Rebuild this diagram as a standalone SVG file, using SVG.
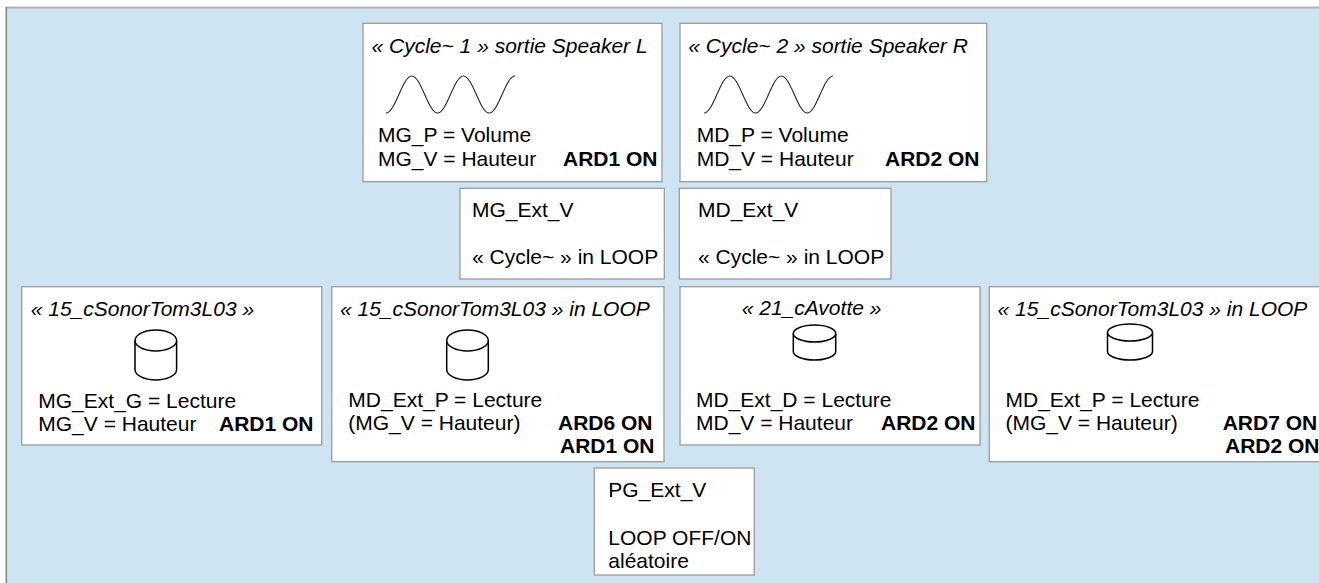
<svg xmlns="http://www.w3.org/2000/svg" width="1319" height="583" viewBox="0 0 1319 583">
<style>
  text { font-family: "Liberation Sans", Arial, sans-serif; font-size: 21px; fill: #000; }
  .it { font-style: italic; }
  .b { font-weight: bold; }
  .box { fill: #fff; stroke: #9c9c9c; stroke-width: 1.3; }
  .wave { fill: none; stroke: #222; stroke-width: 1.1; }
  .cyl { fill: #fff; stroke: #000; stroke-width: 1.5; }
</style>
<rect x="0" y="0" width="1319" height="583" fill="#fff"/>
<rect x="6.5" y="7.5" width="1320" height="580" fill="#cee4f3"/>
<line x1="6" y1="7.5" x2="1319" y2="7.5" stroke="#b2b2b2" stroke-width="2"/>
<line x1="6.3" y1="7" x2="6.3" y2="583" stroke="#848484" stroke-width="1.5"/>

<g id="connectors"></g>

<g id="cycle1">
  <rect class="box" x="363" y="23.3" width="299" height="158.4"/>
  <text class="it" x="371.5" y="53.3">« Cycle~ 1 » sortie Speaker L</text>
  <path class="wave" d="M386,113 c9.4,0 16.4,-37 25.8,-37 c9.4,0 16.4,37 25.8,37 c9.4,0 16.4,-37 25.8,-37 c9.4,0 16.4,37 25.8,37 c9.4,0 16.4,-37 25.8,-37"/>
  <text x="378" y="141.7">MG_P = Volume</text>
  <text x="378" y="165.8">MG_V = Hauteur</text>
  <text class="b" x="563" y="165.8">ARD1 ON</text>
</g>

<g id="cycle2">
  <rect class="box" x="680" y="23.3" width="306.7" height="158.4"/>
  <text class="it" x="688.3" y="53.3">« Cycle~ 2 » sortie Speaker R</text>
  <path class="wave" d="M704,113 c9.4,0 16.4,-37 25.8,-37 c9.4,0 16.4,37 25.8,37 c9.4,0 16.4,-37 25.8,-37 c9.4,0 16.4,37 25.8,37 c9.4,0 16.4,-37 25.8,-37"/>
  <text x="696.7" y="141.7">MD_P = Volume</text>
  <text x="696.7" y="165.8">MD_V = Hauteur</text>
  <text class="b" x="885" y="165.8">ARD2 ON</text>
</g>

<g id="mg_ext_v">
  <rect class="box" x="460" y="188.3" width="204.3" height="90.7"/>
  <text x="472" y="216.7">MG_Ext_V</text>
  <text x="472" y="264">« Cycle~ » in LOOP</text>
</g>

<g id="md_ext_v">
  <rect class="box" x="679.3" y="188.3" width="211.7" height="90.7"/>
  <text x="698" y="216.7">MD_Ext_V</text>
  <text x="698" y="264">« Cycle~ » in LOOP</text>
</g>

<g id="sonor1">
  <rect class="box" x="21.7" y="286.7" width="300" height="158.3"/>
  <text class="it" x="30.7" y="315.5">« 15_cSonorTom3L03 »</text>
  <path class="cyl" d="M135,340.5 V369.5 A20.8,10.5 0 0 0 176.6,369.5 V340.5"/>
  <ellipse class="cyl" cx="155.8" cy="340.5" rx="20.8" ry="10.5"/>
  <text x="38.3" y="408">MG_Ext_G = Lecture</text>
  <text x="38.3" y="431">MG_V = Hauteur</text>
  <text class="b" x="219" y="431">ARD1 ON</text>
</g>

<g id="sonor_loop1">
  <rect class="box" x="331.7" y="286.7" width="332.3" height="175"/>
  <text class="it" x="340" y="315.5">« 15_cSonorTom3L03 » in LOOP</text>
  <path class="cyl" d="M446.7,340.5 V369.5 A20.8,10.5 0 0 0 488.3,369.5 V340.5"/>
  <ellipse class="cyl" cx="467.5" cy="340.5" rx="20.8" ry="10.5"/>
  <text x="348.3" y="407">MD_Ext_P = Lecture</text>
  <text x="348.3" y="430">(MG_V = Hauteur)</text>
  <text class="b" x="558" y="430">ARD6 ON</text>
  <text class="b" x="560" y="453">ARD1 ON</text>
</g>

<g id="avotte">
  <rect class="box" x="680" y="286.7" width="300" height="158.3"/>
  <text class="it" x="741.7" y="315">« 21_cAvotte »</text>
  <path class="cyl" d="M793.3,333.5 V351.5 A21.2,8.5 0 0 0 835.7,351.5 V333.5"/>
  <ellipse class="cyl" cx="814.5" cy="333.5" rx="21.2" ry="8.5"/>
  <text x="696" y="407">MD_Ext_D = Lecture</text>
  <text x="696" y="430">MD_V = Hauteur</text>
  <text class="b" x="881" y="430">ARD2 ON</text>
</g>

<g id="sonor_loop2">
  <rect class="box" x="989.3" y="286.7" width="340" height="175"/>
  <text class="it" x="997.6" y="315.5">« 15_cSonorTom3L03 » in LOOP</text>
  <path class="cyl" d="M1107.5,332.5 V351.5 A22.5,8.5 0 0 0 1152.5,351.5 V332.5"/>
  <ellipse class="cyl" cx="1130" cy="332.5" rx="22.5" ry="8.5"/>
  <text x="1005.5" y="407">MD_Ext_P = Lecture</text>
  <text x="1005.5" y="430">(MG_V = Hauteur)</text>
  <text class="b" x="1222.7" y="430">ARD7 ON</text>
  <text class="b" x="1225" y="453">ARD2 ON</text>
</g>

<g id="pg_ext_v">
  <rect class="box" x="594.3" y="468" width="160" height="107"/>
  <text x="608.3" y="497">PG_Ext_V</text>
  <text x="608.3" y="545">LOOP OFF/ON</text>
  <text x="608.3" y="568.3">aléatoire</text>
</g>
</svg>
